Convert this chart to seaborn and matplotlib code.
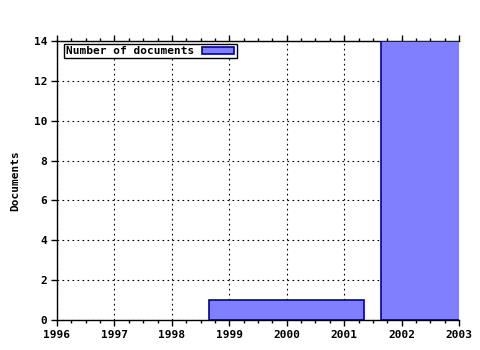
import matplotlib
matplotlib.use("Agg")
import matplotlib.pyplot as plt
import seaborn as sns
import pandas as pd
import numpy as np

years = [2000, 2003]
counts = [1, 14]
x_ticks = [1996, 1997, 1998, 1999, 2000, 2001, 2002, 2003]
y_ticks = [0, 2, 4, 6, 8, 10, 12, 14]
series_label = "Number of documents"

sns.set_style("white")
plt.rcParams['font.family'] = ['DejaVu Sans Mono']
plt.rcParams['font.weight'] = 'bold'
plt.rcParams['font.size'] = 8
plt.rcParams['text.color'] = 'black'
plt.rcParams['xtick.color'] = 'black'
plt.rcParams['ytick.color'] = 'black'
plt.rcParams['axes.labelcolor'] = 'black'

df = pd.DataFrame({"year": years, "count": counts})

fig = plt.figure(figsize=(4.8, 3.5), dpi=100)
ax = fig.add_axes([57/480, 30/350, (459-57)/480, (320-41)/350])

sns.barplot(data=df, x="year", y="count", native_scale=True, width=0.9,
            color="#8080ff", saturation=1, edgecolor="#000099", linewidth=1.2,
            label=series_label, ax=ax, zorder=3)

ax.set_xlim(1996, 2003)
ax.set_ylim(0, 14)
ax.set_xticks(x_ticks)
ax.set_xticklabels([str(t) for t in x_ticks])
ax.set_xticks(np.arange(1996, 2003.01, 0.25), minor=True)
ax.set_yticks(y_ticks)
ax.tick_params(axis='x', which='major', direction='out', length=4, width=1,
               bottom=True, top=True, labelbottom=True, labeltop=False, pad=3)
ax.tick_params(axis='x', which='minor', direction='out', length=2, width=1,
               bottom=True, top=True)
ax.tick_params(axis='y', which='major', direction='out', length=4, width=1,
               left=True, right=False, pad=3)
ax.tick_params(labelsize=8, colors='black')
for lbl in ax.get_xticklabels() + ax.get_yticklabels():
    lbl.set_fontweight('bold')

ax.grid(True, which='major', color='black', linestyle=(0, (1.5, 3)), linewidth=0.8, zorder=0)
ax.set_axisbelow(True)
ax.spines['right'].set_visible(False)
for s in ['left', 'bottom', 'top']:
    ax.spines[s].set_visible(True)
    ax.spines[s].set_color('black')
    ax.spines[s].set_linewidth(1.0)
ax.spines['left'].set_zorder(5)
ax.spines['bottom'].set_zorder(5)
ax.spines['top'].set_zorder(2)

ax.set_xlabel("")
ax.set_ylabel("Documents", fontsize=8, fontweight='bold', labelpad=10)

leg = ax.legend(loc='upper left', bbox_to_anchor=(64/480, 1-44/350),
                bbox_transform=fig.transFigure, markerfirst=False, frameon=True,
                fancybox=False, borderpad=0.2, handlelength=2.9, handleheight=0.55,
                handletextpad=0.7, borderaxespad=0.0,
                prop={'size': 8, 'weight': 'bold'})
leg.get_frame().set_edgecolor('black')
leg.get_frame().set_linewidth(1.0)
leg.get_frame().set_alpha(1)
leg.set_zorder(6)

fig.savefig("out.png", dpi=100)
